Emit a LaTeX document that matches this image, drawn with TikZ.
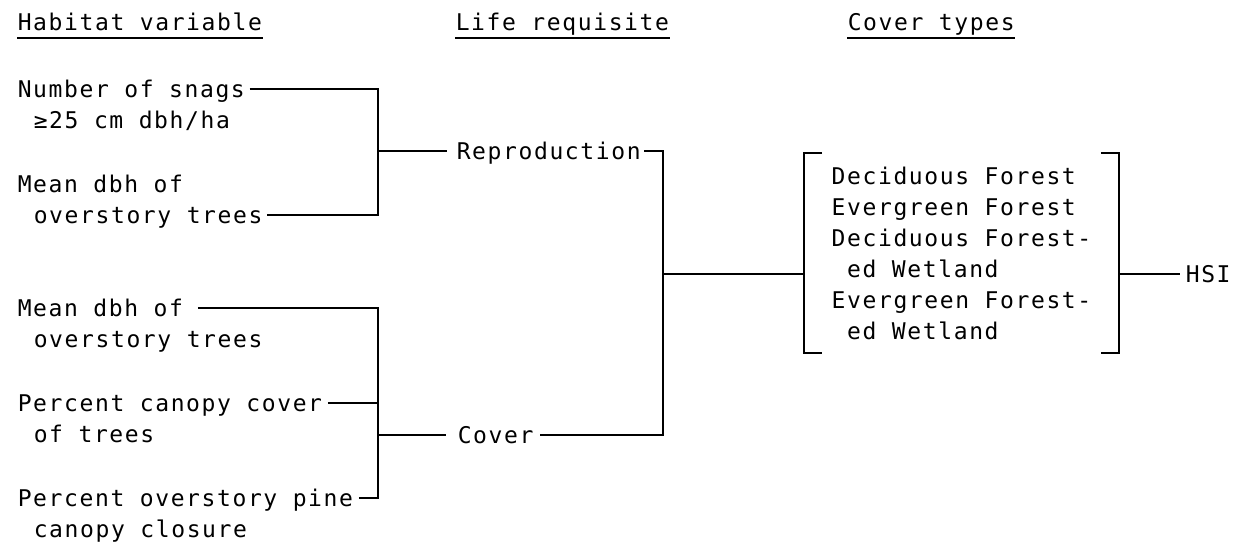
\documentclass[tikz,border=0pt]{standalone}
\usepackage{fontspec}
\newfontfamily\tw{DejaVu Sans Mono}[LetterSpace=7]

\begin{document}
\begin{tikzpicture}[x=1pt, y=-1pt, line width=1.6pt,
    txt/.style={anchor=base west, inner sep=0pt, font=\tw\fontsize{23}{31}\selectfont}]
    \useasboundingbox (0,0) rectangle (1241,550);

    % column headers
    \node[txt] (hab) at (17,30) {Habitat variable};
    \node[txt] (life) at (455,30) {Life requisite};
    \node[txt] (ctype) at (847,30) {Cover types};
    \draw[line width=1.2pt] ([yshift=-8pt]hab.base west) -- ([yshift=-8pt]hab.base east);
    \draw[line width=1.2pt] ([yshift=-8pt]life.base west) -- ([yshift=-8pt]life.base east);
    \draw[line width=1.2pt] ([yshift=-8pt]ctype.base west) -- ([yshift=-8pt]ctype.base east);

    % habitat variables
    \node[txt] (snags) at (17,97) {Number of snags};
    \node[txt] (snagsb) at (33,128) {≥25 cm dbh/ha};
    \node[txt] (meana) at (17,192) {Mean dbh of};
    \node[txt] (trees) at (33,223) {overstory trees};
    \node[txt] (meanb) at (17,316) {Mean dbh of};
    \node[txt] (treesb) at (33,347) {overstory trees};
    \node[txt] (canopy) at (17,411) {Percent canopy cover};
    \node[txt] (canopyb) at (33,442) {of trees};
    \node[txt] (pine) at (17,506) {Percent overstory pine};
    \node[txt] (pineb) at (33,537) {canopy closure};

    % life requisites and output
    \node[txt] (repro) at (456,159) {Reproduction};
    \node[txt] (cover) at (457,443) {Cover};
    \node[txt] (hsi) at (1185,282) {HSI};

    % cover types
    \node[txt, anchor=center, align=left, minimum width=313pt, minimum height=198pt]
        (types) at (961.5,253) {Deciduous Forest\\Evergreen Forest\\Deciduous Forest-\\\hspace*{15.5pt}ed Wetland\\Evergreen Forest-\\\hspace*{15.5pt}ed Wetland};
    \draw ([xshift=18pt]types.north west) -- (types.north west) -- (types.south west) -- ([xshift=18pt]types.south west);
    \draw ([xshift=-18pt]types.north east) -- (types.north east) -- (types.south east) -- ([xshift=-18pt]types.south east);

    % junctions
    \coordinate (jr) at (378,151);
    \coordinate (jc) at (378,435);
    \coordinate (jl) at (663,274);

    % draw connectors
    \draw ([xshift=4pt,yshift=8pt]snags.base east) -| (jr);
    \draw ([xshift=4pt,yshift=8pt]trees.base east) -| (jr);
    \draw (jr) -- ([xshift=-9pt,yshift=8pt]repro.base west);

    \draw ([xshift=14pt,yshift=8pt]meanb.base east) -| (jc);
    \draw ([xshift=5pt,yshift=8pt]canopy.base east) -| (jc);
    \draw ([xshift=5pt,yshift=8pt]pine.base east) -| (jc);
    \draw (jc) -- ([xshift=-11pt,yshift=8pt]cover.base west);

    \draw ([xshift=3pt,yshift=8pt]repro.base east) -| (jl);
    \draw ([xshift=6pt,yshift=8pt]cover.base east) -| (jl);
    \draw (jl) -- (jl -| types.west);
    \draw (types.east |- jl) -- ([xshift=-5pt,yshift=8pt]hsi.base west);
\end{tikzpicture}
\end{document}
